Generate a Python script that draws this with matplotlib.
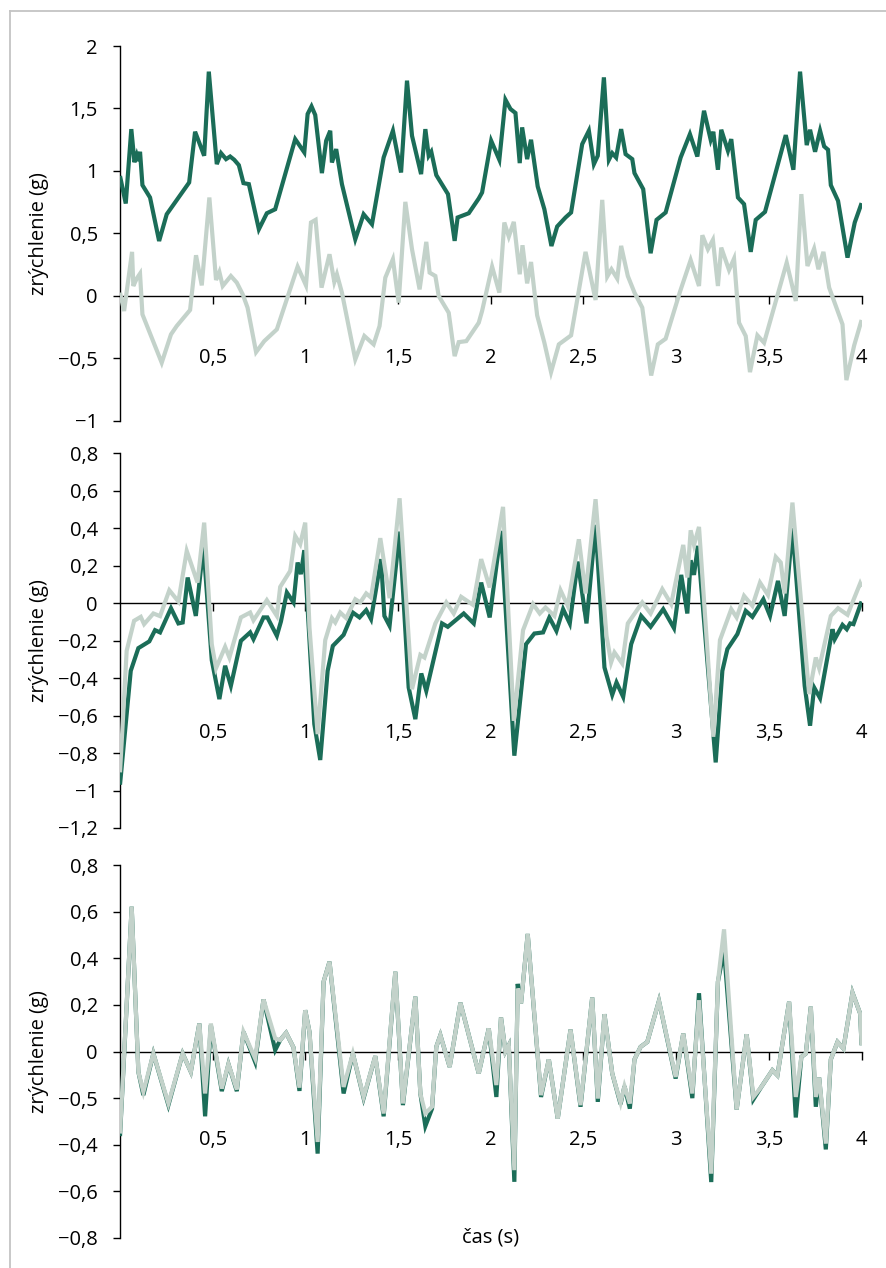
import matplotlib
matplotlib.use("Agg")
import matplotlib.pyplot as plt
from matplotlib.lines import Line2D

plt.rcParams['font.family'] = ['Open Sans', 'DejaVu Sans']

# ---------------- data ----------------
x_tick_values = [0.5, 1, 1.5, 2, 2.5, 3, 3.5, 4]
x_tick_labels = ["0,5", "1", "1,5", "2", "2,5", "3", "3,5", "4"]

p1_yticks = [-1, -0.5, 0, 0.5, 1, 1.5, 2]
p1_ylabels = ["\u22121", "\u22120,5", "0", "0,5", "1", "1,5", "2"]
p2_yticks = [-1.2, -1, -0.8, -0.6, -0.4, -0.2, 0, 0.2, 0.4, 0.6, 0.8]
p2_ylabels = ["\u22121,2", "\u22121", "\u22120,8", "\u22120,6", "\u22120,4", "\u22120,2",
              "0", "0,2", "0,4", "0,6", "0,8"]
p3_yticks = [-0.8, -0.6, -0.4, -0.2, 0, 0.2, 0.4, 0.6, 0.8]
p3_ylabels = ["\u22120,8", "\u22120,6", "\u22120,4", "\u22120,5", "0", "0,2", "0,4", "0,6", "0,8"]

p1_dark_t = [0.0, 0.031, 0.061, 0.078, 0.090, 0.099, 0.108, 0.121, 0.162, 0.211,
             0.252, 0.373, 0.405, 0.454, 0.479, 0.522, 0.545, 0.572, 0.594, 0.616,
             0.641, 0.666, 0.695, 0.749, 0.792, 0.837, 0.945, 0.994, 1.012, 1.033,
             1.053, 1.089, 1.112, 1.134, 1.143, 1.166, 1.197, 1.269, 1.314, 1.359,
             1.422, 1.472, 1.516, 1.548, 1.575, 1.624, 1.647, 1.665, 1.679, 1.706,
             1.769, 1.805, 1.821, 1.881, 1.935, 1.953, 2.002, 2.046, 2.079, 2.106,
             2.133, 2.156, 2.169, 2.196, 2.217, 2.253, 2.289, 2.327, 2.358, 2.403,
             2.433, 2.493, 2.529, 2.556, 2.577, 2.610, 2.637, 2.655, 2.676, 2.703,
             2.727, 2.763, 2.775, 2.822, 2.862, 2.894, 2.943, 3.024, 3.074, 3.114,
             3.150, 3.186, 3.200, 3.225, 3.243, 3.279, 3.297, 3.333, 3.366, 3.402,
             3.429, 3.479, 3.591, 3.632, 3.668, 3.704, 3.722, 3.749, 3.776, 3.798,
             3.819, 3.834, 3.873, 3.924, 3.963, 4.0]
p1_dark_v = [0.96, 0.74, 1.335, 1.07, 1.127, 1.08, 1.154, 0.887, 0.788, 0.44,
             0.654, 0.908, 1.314, 1.122, 1.795, 1.055, 1.143, 1.095, 1.116, 1.090,
             1.047, 0.903, 0.895, 0.534, 0.662, 0.694, 1.255, 1.149, 1.456, 1.517,
             1.448, 0.983, 1.242, 1.322, 1.068, 1.175, 0.895, 0.454, 0.654, 0.574,
             1.108, 1.322, 0.988, 1.723, 1.282, 0.975, 1.335, 1.122, 1.154, 0.967,
             0.815, 0.441, 0.628, 0.662, 0.780, 0.828, 1.242, 1.09, 1.57, 1.496,
             1.464, 1.063, 1.349, 1.095, 1.25, 0.876, 0.694, 0.40, 0.556, 0.628,
             0.668, 1.215, 1.322, 1.055, 1.122, 1.749, 1.09, 1.143, 1.108, 1.335,
             1.135, 1.095, 0.983, 0.855, 0.342, 0.609, 0.668, 1.108, 1.295, 1.116,
             1.482, 1.25, 1.314, 1.01, 1.33, 1.162, 1.255, 0.788, 0.735, 0.353,
             0.609, 0.673, 1.287, 1.01, 1.795, 1.207, 1.33, 1.154, 1.322, 1.197,
             1.17, 0.887, 0.761, 0.307, 0.588, 0.743]

p1_light_t = [0.0, 0.022, 0.065, 0.072, 0.090, 0.108, 0.121, 0.225, 0.275, 0.306,
              0.378, 0.410, 0.441, 0.482, 0.518, 0.536, 0.554, 0.598, 0.630, 0.662,
              0.688, 0.734, 0.778, 0.846, 0.958, 1.003, 1.030, 1.055, 1.087, 1.130,
              1.156, 1.170, 1.197, 1.269, 1.318, 1.368, 1.400, 1.431, 1.472, 1.503,
              1.539, 1.575, 1.616, 1.652, 1.670, 1.701, 1.719, 1.773, 1.805, 1.827,
              1.868, 1.935, 1.953, 2.007, 2.046, 2.073, 2.097, 2.124, 2.156, 2.171,
              2.196, 2.217, 2.250, 2.289, 2.325, 2.367, 2.433, 2.511, 2.565, 2.601,
              2.628, 2.651, 2.682, 2.703, 2.739, 2.775, 2.817, 2.865, 2.901, 2.943,
              3.020, 3.078, 3.123, 3.141, 3.171, 3.198, 3.225, 3.243, 3.285, 3.312,
              3.339, 3.375, 3.398, 3.438, 3.474, 3.596, 3.645, 3.675, 3.708, 3.744,
              3.767, 3.794, 3.825, 3.897, 3.918, 3.960, 4.0]
p1_light_v = [0.027, -0.12, 0.353, 0.080, 0.139, 0.179, -0.147, -0.534, -0.307, -0.240,
              -0.112, 0.326, 0.085, 0.788, 0.128, 0.192, 0.080, 0.160, 0.107, 0.013,
              -0.093, -0.449, -0.361, -0.267, 0.235, 0.085, 0.588, 0.609, 0.067, 0.334,
              0.112, 0.174, 0.027, -0.507, -0.32, -0.387, -0.240, 0.147, 0.294, -0.053,
              0.753, 0.374, 0.053, 0.433, 0.187, 0.160, 0.0, -0.134, -0.481, -0.369,
              -0.361, -0.214, -0.12, 0.235, 0.027, 0.588, 0.475, 0.593, 0.174, 0.406,
              0.101, 0.272, -0.155, -0.374, -0.609, -0.387, -0.315, 0.353, -0.032, 0.769,
              0.155, 0.214, 0.139, 0.401, 0.160, 0.027, -0.093, -0.636, -0.387, -0.342,
              0.032, 0.288, 0.080, 0.486, 0.374, 0.449, 0.080, 0.387, 0.208, 0.299,
              -0.214, -0.32, -0.609, -0.315, -0.374, 0.267, -0.040, 0.815, 0.240, 0.379,
              0.214, 0.353, 0.067, -0.227, -0.673, -0.395, -0.192]

p2_dark_t = [0.0, 0.058, 0.099, 0.158, 0.189, 0.216, 0.275, 0.315, 0.338, 0.365,
             0.409, 0.450, 0.495, 0.536, 0.567, 0.598, 0.652, 0.702, 0.720, 0.774,
             0.795, 0.846, 0.868, 0.900, 0.936, 0.958, 0.976, 0.994, 1.048, 1.080,
             1.120, 1.148, 1.206, 1.256, 1.292, 1.328, 1.354, 1.408, 1.426, 1.454,
             1.508, 1.557, 1.593, 1.625, 1.652, 1.737, 1.768, 1.854, 1.908, 1.948,
             1.994, 2.055, 2.127, 2.190, 2.235, 2.282, 2.316, 2.354, 2.390, 2.426,
             2.469, 2.516, 2.565, 2.613, 2.655, 2.678, 2.714, 2.757, 2.811, 2.862,
             2.930, 2.988, 3.027, 3.060, 3.078, 3.096, 3.117, 3.213, 3.249, 3.276,
             3.330, 3.375, 3.411, 3.470, 3.506, 3.549, 3.585, 3.627, 3.693, 3.722,
             3.744, 3.776, 3.843, 3.855, 3.897, 3.920, 3.938, 3.956, 4.0]
p2_dark_v = [-0.969, -0.361, -0.24, -0.204, -0.144, -0.156, -0.027, -0.108, -0.103, 0.137,
             -0.068, 0.306, -0.304, -0.512, -0.334, -0.441, -0.201, -0.156, -0.192, -0.076,
             -0.076, -0.174, -0.098, 0.057, 0.004, 0.217, 0.155, 0.283, -0.645, -0.837,
             -0.361, -0.228, -0.169, -0.05, -0.076, -0.037, -0.085, 0.235, -0.068, -0.121,
             0.382, -0.450, -0.619, -0.375, -0.468, -0.108, -0.126, -0.055, -0.108, 0.110,
             -0.076, 0.386, -0.814, -0.219, -0.162, -0.156, -0.076, -0.148, -0.032, -0.108,
             0.222, -0.108, 0.418, -0.343, -0.489, -0.423, -0.5, -0.219, -0.068, -0.126,
             -0.032, -0.133, 0.151, -0.055, 0.229, 0.151, 0.306, -0.85, -0.361, -0.245,
             -0.165, -0.041, -0.073, 0.021, -0.068, 0.119, -0.068, 0.40, -0.441, -0.654,
             -0.45, -0.507, -0.139, -0.192, -0.116, -0.139, -0.108, -0.112, 0.009]

p2_light_t = [0.0, 0.036, 0.076, 0.112, 0.130, 0.180, 0.216, 0.266, 0.315, 0.360,
              0.418, 0.454, 0.495, 0.518, 0.567, 0.590, 0.652, 0.702, 0.720, 0.792,
              0.846, 0.864, 0.918, 0.945, 0.972, 0.999, 1.022, 1.066, 1.107, 1.143,
              1.161, 1.188, 1.220, 1.269, 1.296, 1.328, 1.354, 1.404, 1.454, 1.508,
              1.575, 1.620, 1.642, 1.701, 1.760, 1.800, 1.840, 1.904, 1.948, 1.994,
              2.066, 2.124, 2.174, 2.228, 2.264, 2.295, 2.343, 2.376, 2.415, 2.475,
              2.511, 2.565, 2.624, 2.649, 2.667, 2.709, 2.739, 2.817, 2.862, 2.925,
              2.973, 3.038, 3.060, 3.078, 3.096, 3.123, 3.200, 3.236, 3.297, 3.326,
              3.366, 3.411, 3.452, 3.495, 3.537, 3.564, 3.585, 3.627, 3.717, 3.753,
              3.771, 3.834, 3.873, 3.924, 3.992, 4.0]
p2_light_v = [-0.903, -0.254, -0.094, -0.073, -0.112, -0.055, -0.069, 0.069, 0.009, 0.279,
              0.110, 0.430, -0.219, -0.347, -0.233, -0.290, -0.076, -0.05, -0.091, 0.016,
              -0.068, 0.087, 0.172, 0.359, 0.315, 0.430, -0.130, -0.699, -0.197, -0.08,
              -0.103, -0.05, -0.08, 0.021, 0.004, 0.052, 0.030, 0.347, 0.027, 0.56,
              -0.459, -0.276, -0.290, -0.108, 0.004, -0.055, 0.034, -0.009, 0.235, 0.084,
              0.514, -0.628, -0.144, -0.005, -0.055, -0.023, -0.068, 0.069, -0.014, 0.341,
              0.052, 0.555, -0.174, -0.316, -0.263, -0.322, -0.108, 0.004, -0.055, 0.075,
              -0.005, 0.311, 0.137, 0.389, 0.311, 0.407, -0.713, -0.197, -0.032, -0.076,
              0.039, -0.014, 0.110, 0.044, 0.247, 0.217, 0.052, 0.537, -0.485, -0.290,
              -0.347, -0.068, -0.027, -0.062, 0.105, 0.087]

p3_t = [0.0, 0.063, 0.099, 0.126, 0.180, 0.261, 0.338, 0.382, 0.428, 0.459,
        0.490, 0.549, 0.585, 0.630, 0.666, 0.729, 0.774, 0.837, 0.864, 0.896,
        0.936, 0.968, 0.999, 1.022, 1.066, 1.098, 1.130, 1.206, 1.256, 1.314,
        1.377, 1.422, 1.485, 1.526, 1.593, 1.620, 1.647, 1.683, 1.706, 1.728,
        1.778, 1.836, 1.935, 1.989, 2.030, 2.055, 2.079, 2.097, 2.127, 2.145,
        2.163, 2.199, 2.271, 2.313, 2.361, 2.430, 2.484, 2.547, 2.577, 2.613,
        2.655, 2.700, 2.721, 2.750, 2.775, 2.808, 2.844, 2.907, 2.997, 3.038,
        3.087, 3.123, 3.189, 3.225, 3.258, 3.326, 3.380, 3.416, 3.459, 3.519,
        3.546, 3.609, 3.645, 3.675, 3.699, 3.726, 3.753, 3.771, 3.807, 3.834,
        3.870, 3.902, 3.951, 3.992, 4.0]
p3_light_v = [-0.352, 0.621, -0.087, -0.173, -0.009, -0.223, -0.009, -0.087, 0.120, -0.180,
              0.120, -0.159, -0.054, -0.163, 0.084, -0.030, 0.223, 0.056, 0.049, 0.080,
              0.017, -0.155, 0.177, 0.084, -0.388, 0.299, 0.385, -0.152, -0.009, -0.195,
              -0.020, -0.266, 0.342, -0.223, 0.235, -0.180, -0.266, -0.237, 0.020, 0.070,
              -0.066, 0.209, -0.094, 0.099, -0.144, 0.146, 0.0, 0.027, -0.509, 0.270,
              0.206, 0.504, -0.187, -0.034, -0.288, 0.094, -0.230, 0.232, -0.202, 0.160,
              -0.094, -0.220, -0.149, -0.223, -0.034, 0.020, 0.041, 0.217, -0.109, 0.077,
              -0.180, 0.22, -0.524, 0.299, 0.524, -0.249, 0.074, -0.195, -0.152, -0.080,
              -0.102, 0.213, -0.195, -0.023, -0.009, 0.192, -0.195, -0.112, -0.395, -0.034,
              0.041, 0.013, 0.252, 0.163, 0.027]
p3_dark_v = [-0.363, 0.621, -0.087, -0.187, -0.009, -0.23, -0.009, -0.087, 0.120, -0.278,
             0.113, -0.17, -0.054, -0.17, 0.084, -0.045, 0.223, 0.006, 0.049, 0.080,
             0.017, -0.169, 0.177, 0.084, -0.438, 0.299, 0.385, -0.18, -0.009, -0.2,
             -0.020, -0.278, 0.342, -0.23, 0.235, -0.180, -0.32, -0.245, 0.020, 0.070,
             -0.066, 0.209, -0.094, 0.099, -0.195, 0.146, 0.0, 0.027, -0.559, 0.29,
             0.206, 0.504, -0.195, -0.034, -0.288, 0.094, -0.237, 0.232, -0.216, 0.160,
             -0.094, -0.226, -0.149, -0.245, -0.034, 0.020, 0.041, 0.217, -0.116, 0.077,
             -0.2, 0.25, -0.56, 0.299, 0.435, -0.249, 0.074, -0.206, -0.152, -0.080,
             -0.102, 0.213, -0.283, -0.023, -0.009, 0.192, -0.237, -0.112, -0.42, -0.034,
             0.041, 0.013, 0.252, 0.163, 0.027]

# ---------------- style ----------------
DARK = '#1b6d58'
LIGHT = '#c3d2ca'
LW = 3.0
FS = 14.5

fig = plt.figure(figsize=(8.87, 12.68), dpi=100)

L = 120 / 887
W = (861.6 - 120) / 887
H = 1268.0

panels = [
    dict(pos=[L, 1 - 421 / H, W, (421 - 46) / H], ylim=(-1, 2), yt=p1_yticks, yl=p1_ylabels,
         series=[(p1_dark_t, p1_dark_v, DARK), (p1_light_t, p1_light_v, LIGHT)], lab_y=-0.534),
    dict(pos=[L, 1 - 828 / H, W, (828 - 453.3) / H], ylim=(-1.2, 0.8), yt=p2_yticks, yl=p2_ylabels,
         series=[(p2_dark_t, p2_dark_v, DARK), (p2_light_t, p2_light_v, LIGHT)], lab_y=-0.717),
    dict(pos=[L, 1 - 1238 / H, W, (1238 - 865) / H], ylim=(-0.8, 0.8), yt=p3_yticks, yl=p3_ylabels,
         series=[(p3_t, p3_dark_v, DARK), (p3_t, p3_light_v, LIGHT)], lab_y=-0.402),
]

axes = []
for p in panels:
    ax = fig.add_axes(p['pos'])
    for t, v, c in p['series']:
        ax.plot(t, v, color=c, lw=LW, solid_joinstyle='miter', solid_capstyle='butt', zorder=3)
    ax.set_xlim(0, 4)
    ax.set_ylim(*p['ylim'])
    ax.spines['top'].set_visible(False)
    ax.spines['right'].set_visible(False)
    ax.spines['bottom'].set_position(('data', 0))
    ax.spines['bottom'].set_zorder(2)
    ax.spines['left'].set_linewidth(1.0)
    ax.spines['bottom'].set_linewidth(1.0)
    ax.set_yticks(p['yt'])
    ax.set_yticklabels(p['yl'])
    ax.set_xticks(x_tick_values)
    ax.set_xticklabels([])
    ax.tick_params(axis='y', direction='out', length=5, width=1.0, pad=11, labelsize=FS)
    ax.tick_params(axis='x', direction='out', length=6, width=1.0)
    for xv, xl in zip(x_tick_values, x_tick_labels):
        ax.text(xv, p['lab_y'], xl, ha='center', va='baseline', fontsize=FS, zorder=4)
    ax.set_ylabel('zrýchlenie (g)', fontsize=FS)
    ax.yaxis.set_label_coords(-0.0957, 0.5)
    ax.patch.set_alpha(0)
    axes.append(ax)

axes[2].text(0.5, 0.0, 'čas (s)', transform=axes[2].transAxes, ha='center', va='center',
             fontsize=FS)

# thin frame lines at top and left of the figure
fx = 9.7 / 887
fy = 1 - 10.7 / H
fig.add_artist(Line2D([fx, 1.0], [fy, fy], transform=fig.transFigure, color='#c4c4c4', lw=1.3))
fig.add_artist(Line2D([fx, fx], [0.0, fy], transform=fig.transFigure, color='#c4c4c4', lw=1.3))

fig.savefig('out.png', dpi=100)
